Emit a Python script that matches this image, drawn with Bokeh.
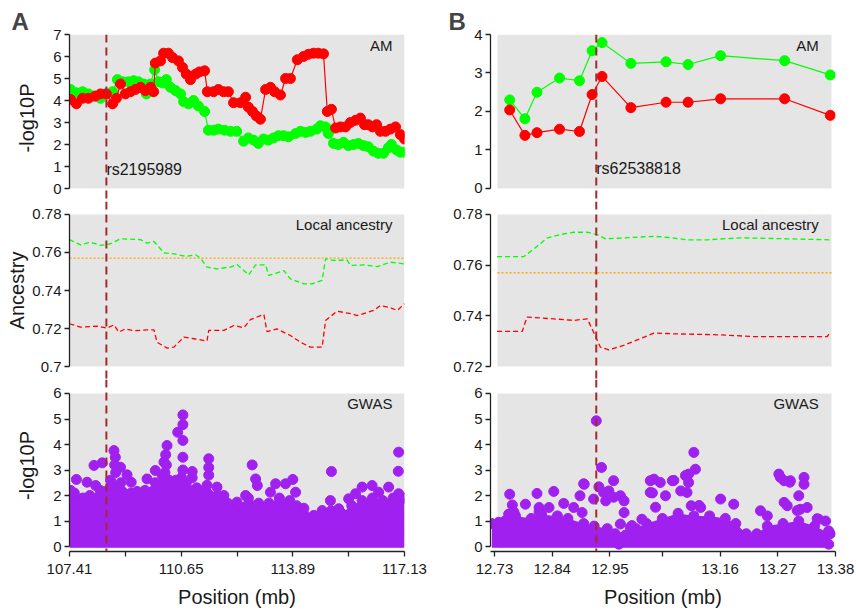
from bokeh.plotting import figure
from bokeh.layouts import row, column
from bokeh.models import Range1d, LinearAxis, FixedTicker, BoxAnnotation, Span, Grid
from bokeh.core.properties import value
from bokeh.embed import file_html
from bokeh.resources import INLINE

# ---------------- DATA ----------------
# Panel A (chr region 107.41-117.13 mb)
a_xticks = [107.41, 109.03, 110.65, 112.27, 113.89, 115.51, 117.13]
a_xtick_labels = ["107.41", "", "110.65", "", "113.89", "", "117.13"]
a_snp_pos = 108.48
a_snp_name = "rs2195989"

a_am_red_x = [107.44, 107.61, 107.79, 107.96, 108.16, 108.31, 108.48, 108.66, 108.77, 108.89, 109.03, 109.18,
              109.32, 109.47, 109.61, 109.76, 109.85, 109.90, 110.05, 110.14, 110.28, 110.40, 110.57, 110.69,
              110.80, 110.92, 111.07, 111.18, 111.33, 111.41, 111.59, 111.73, 111.88, 112.02, 112.17, 112.37,
              112.52, 112.60, 112.72, 112.83, 112.95, 113.10, 113.24, 113.36, 113.53, 113.68, 113.82, 114.02,
              114.20, 114.34, 114.49, 114.63, 114.78, 114.89, 115.01, 115.13, 115.27, 115.42, 115.56, 115.71,
              115.85, 115.97, 116.08, 116.20, 116.32, 116.43, 116.58, 116.72, 116.87, 117.01, 117.13]
a_am_red_y = [4.05, 3.85, 4.1, 4.1, 4.2, 4.3, 4.3, 3.85, 4.1, 4.75, 4.3, 4.4,
              4.5, 4.6, 4.45, 4.6, 4.4, 5.7, 5.8, 6.15, 6.15, 5.95, 5.8, 5.5,
              5.2, 4.95, 5.2, 5.3, 5.35, 4.4, 4.4, 4.5, 4.4, 4.4, 3.9, 3.9,
              4.15, 3.7, 3.5, 3.3, 3.15, 4.5, 4.6, 4.4, 4.25, 5.0, 5.0, 5.85,
              6.0, 6.1, 6.15, 6.15, 6.12, 3.5, 3.6, 2.75, 2.8, 2.8, 3.0, 3.1,
              3.2, 2.9, 2.9, 2.8, 2.9, 2.6, 2.6, 2.7, 2.8, 2.45, 2.25]
a_am_green_x = [107.44, 107.61, 107.79, 107.96, 108.14, 108.31, 108.48, 108.66, 108.80, 108.95, 109.12, 109.27,
                109.41, 109.56, 109.64, 109.76, 109.88, 109.99, 110.11, 110.22, 110.34, 110.49, 110.63, 110.72,
                110.86, 111.01, 111.15, 111.33, 111.44, 111.59, 111.73, 111.91, 112.08, 112.26, 112.46, 112.60,
                112.75, 112.89, 113.04, 113.18, 113.33, 113.47, 113.62, 113.76, 113.97, 114.11, 114.26, 114.40,
                114.58, 114.69, 114.84, 114.92, 115.07, 115.21, 115.36, 115.50, 115.65, 115.79, 115.94, 116.08,
                116.23, 116.37, 116.52, 116.66, 116.75, 116.90, 117.01, 117.13]
a_am_green_y = [4.5, 4.35, 4.4, 4.3, 4.2, 4.1, 4.3, 4.4, 4.95, 4.85, 4.85, 4.9,
                4.85, 4.75, 4.3, 4.75, 5.4, 4.85, 4.8, 4.95, 4.6, 4.45, 4.3, 3.95,
                3.85, 4.0, 3.75, 3.5, 2.65, 2.65, 2.7, 2.65, 2.6, 2.6, 2.15, 2.3,
                2.2, 2.05, 2.25, 2.2, 2.3, 2.4, 2.4, 2.35, 2.5, 2.6, 2.55, 2.6,
                2.7, 2.85, 2.8, 2.5, 2.05, 2.0, 2.1, 1.95, 2.0, 2.05, 1.95, 1.9,
                1.7, 1.6, 1.6, 1.85, 2.0, 1.75, 1.65, 1.65]

a_la_green_x = [107.41, 107.73, 108.02, 108.31, 108.60, 108.89, 109.47, 109.66, 109.86, 110.15, 110.44, 110.78,
                111.07, 111.21, 111.40, 111.69, 112.08, 112.27, 112.61, 112.81, 113.10, 113.19, 113.63, 113.82,
                114.21, 114.45, 114.74, 114.84, 115.08, 115.46, 115.56, 115.95, 116.34, 116.72, 117.13]
a_la_green_y = [0.7668, 0.7640, 0.7654, 0.7637, 0.7646, 0.7672, 0.7668, 0.7649, 0.7658, 0.7598, 0.7593, 0.7579,
                0.7588, 0.7570, 0.7523, 0.7514, 0.7523, 0.7537, 0.7482, 0.7535, 0.7535, 0.7479, 0.7505, 0.7461,
                0.7435, 0.7435, 0.7453, 0.7567, 0.7558, 0.7561, 0.7532, 0.7535, 0.7526, 0.7549, 0.7540]
a_la_red_x = [107.41, 107.73, 108.21, 108.50, 108.70, 108.84, 109.03, 109.28, 109.66, 109.86, 109.95, 110.24,
              110.44, 110.73, 111.02, 111.40, 111.45, 111.89, 112.18, 112.47, 112.66, 113.05, 113.14, 113.43,
              113.82, 114.11, 114.40, 114.74, 114.84, 115.17, 115.61, 115.75, 116.24, 116.43, 116.72, 116.92, 117.13]
a_la_red_y = [0.7225, 0.7207, 0.7212, 0.7202, 0.7219, 0.7181, 0.7198, 0.7188, 0.7193, 0.7193, 0.7128, 0.7097,
              0.7102, 0.7155, 0.7146, 0.7134, 0.7190, 0.7190, 0.7216, 0.7204, 0.7247, 0.7274, 0.7184, 0.7198,
              0.7163, 0.7128, 0.7102, 0.7102, 0.7242, 0.7291, 0.7277, 0.7268, 0.7295, 0.7321, 0.7309, 0.7295, 0.7330]
la_reference = 0.757

a_gwas_x = [107.44, 107.61, 107.92, 108.12, 108.17, 108.36, 108.70, 108.74, 108.72, 108.75, 108.89, 109.08,
            109.20, 109.37, 109.66, 109.90, 110.15, 110.24, 110.20, 110.22, 110.18, 110.55, 110.70, 110.70,
            110.70, 110.70, 110.70, 110.66, 110.97, 110.97, 111.45, 111.45, 111.45, 111.69, 111.89, 112.27,
            112.52, 112.71, 112.81, 112.86, 113.24, 113.39, 113.68, 113.89, 113.97, 114.21, 114.50, 114.74,
            114.98, 115.01, 115.22, 115.51, 115.71, 115.90, 116.19, 116.38, 116.67, 116.96, 116.95, 116.96,
            116.96, 116.96]
a_gwas_y = [2.2, 2.63, 2.52, 3.18, 2.39, 3.28, 3.76, 3.50, 3.2, 2.9, 3.11, 2.81,
            2.52, 2.16, 2.65, 2.98, 3.31, 3.96, 3.6, 3.2, 2.9, 4.48, 5.16, 4.78,
            4.16, 3.50, 3.0, 2.7, 2.94, 2.70, 3.44, 3.10, 2.8, 2.33, 2.00, 1.74,
            2.00, 3.20, 2.65, 2.39, 2.13, 2.46, 2.46, 2.63, 2.13, 1.50, 1.22, 1.41,
            1.80, 2.94, 1.48, 1.87, 2.07, 2.33, 2.39, 2.13, 2.33, 3.70, 2.95, 2.07,
            1.20, 0.60]
a_gwas_band_x = [107.41, 107.55, 107.8, 108.0, 108.3, 108.6, 108.9, 109.2, 109.45, 109.6, 109.9, 110.1,
                 110.3, 110.5, 110.8, 111.1, 111.4, 111.7, 112.0, 112.3, 112.6, 112.9, 113.2, 113.5,
                 113.8, 114.0, 114.2, 114.4, 114.7, 115.0, 115.3, 115.6, 115.9, 116.2, 116.5, 116.8, 117.13]
a_gwas_band_top = [1.9, 2.1, 1.9, 2.0, 2.2, 2.6, 2.5, 2.1, 2.0, 2.2, 2.5, 2.8,
                   2.6, 2.6, 2.5, 2.3, 2.4, 2.0, 1.7, 1.6, 1.9, 1.7, 1.7, 1.9,
                   1.8, 1.6, 1.3, 1.1, 1.2, 1.4, 1.3, 1.6, 1.8, 1.9, 1.8, 1.9, 1.9]

# Panel B (region 12.73-13.38 mb)
b_xticks = [12.73, 12.84, 12.95, 13.05, 13.16, 13.27, 13.38]
b_xtick_labels = ["12.73", "12.84", "12.95", "", "13.16", "13.27", "13.38"]
b_snp_pos = 12.924
b_snp_name = "rs62538818"

b_am_x = [12.759, 12.788, 12.811, 12.854, 12.892, 12.916, 12.935, 12.990, 13.057, 13.099, 13.161, 13.283, 13.370]
b_am_green_y = [2.30, 1.81, 2.50, 2.87, 2.80, 3.58, 3.79, 3.25, 3.29, 3.22, 3.45, 3.32, 2.95]
b_am_red_y = [2.04, 1.38, 1.45, 1.54, 1.48, 2.44, 2.91, 2.10, 2.24, 2.24, 2.33, 2.33, 1.90]

b_la_green_x = [12.735, 12.786, 12.805, 12.830, 12.856, 12.881, 12.907, 12.926, 12.942, 12.970, 13.034, 13.072,
                13.097, 13.135, 13.199, 13.288, 13.370]
b_la_green_y = [0.7634, 0.7634, 0.7664, 0.7707, 0.7721, 0.7730, 0.7730, 0.7720, 0.7704, 0.7707, 0.7714, 0.7707,
                0.7700, 0.7700, 0.7708, 0.7704, 0.7700]
b_la_red_x = [12.735, 12.783, 12.792, 12.843, 12.881, 12.907, 12.919, 12.932, 12.948, 12.976, 13.034, 13.072,
              13.161, 13.224, 13.364, 13.370]
b_la_red_y = [0.7339, 0.7339, 0.7395, 0.7388, 0.7382, 0.7388, 0.7335, 0.7276, 0.7266, 0.7283, 0.7332, 0.7329,
              0.7325, 0.7318, 0.7318, 0.7335]

b_gwas_x = [12.924, 12.934, 12.929, 12.957, 12.901, 12.893, 12.759, 12.811, 12.843, 12.789, 12.764, 12.757,
            12.815, 12.834, 12.862, 12.881, 12.897, 12.919, 12.938, 12.942, 12.948, 12.970, 12.977, 12.977,
            12.970, 12.973, 12.967, 12.989, 13.011, 13.027, 13.027, 13.034, 13.046, 13.056, 13.069, 13.085,
            13.097, 13.100, 13.100, 13.110, 13.113, 13.105, 13.123, 13.161, 13.186, 13.272, 13.275, 13.282,
            13.294, 13.320, 13.320, 13.282, 13.288, 13.310, 13.313, 13.326, 13.237, 13.250, 13.348, 13.361,
            13.367, 13.367, 12.738, 12.767, 12.815, 12.900, 12.957, 12.992, 13.031, 13.037, 13.094, 13.072,
            13.120, 13.293, 13.307, 13.345]
b_gwas_y = [4.93, 3.10, 2.34, 2.58, 2.44, 1.99, 2.05, 2.08, 2.16, 1.66, 1.63, 1.27,
            1.53, 1.53, 1.69, 1.53, 1.33, 1.86, 2.12, 1.79, 2.18, 1.99, 1.79, 1.33,
            0.88, 0.35, 0.09, 0.75, 1.07, 2.58, 2.12, 2.64, 2.51, 1.99, 2.58, 2.18,
            2.12, 2.84, 2.51, 3.69, 3.03, 1.60, 1.53, 1.86, 1.66, 2.84, 2.71, 2.58,
            2.58, 2.71, 2.44, 1.73, 1.60, 1.99, 1.46, 1.53, 1.40, 1.20, 1.07, 1.00,
            0.61, 0.09, 0.95, 1.35, 1.35, 2.46, 1.93, 0.82, 2.10, 1.54, 2.78, 2.59,
            1.61, 2.52, 1.41, 1.09]
b_gwas_band_x = [12.725, 12.75, 12.77, 12.80, 12.82, 12.85, 12.87, 12.90, 12.92, 12.945, 12.96, 12.98,
                 13.00, 13.02, 13.05, 13.08, 13.11, 13.14, 13.17, 13.19, 13.21, 13.23, 13.25, 13.28,
                 13.31, 13.34, 13.37]
b_gwas_band_top = [0.9, 1.0, 1.2, 1.1, 1.25, 1.2, 1.1, 0.9, 0.8, 0.7, 0.5, 0.45,
                   0.7, 0.9, 1.1, 1.3, 1.2, 1.2, 1.1, 0.9, 0.5, 0.5, 0.8, 0.9,
                   1.0, 0.8, 0.5]

# ---------------- STYLE ----------------
FONT = "Liberation Sans"
GRAY = "#E5E5E5"
RED = "#FF0000"
GREEN = "#00FF00"
PURPLE = "#A020F0"
SNP_COL = "#A52A2A"
AXIS_COL = "#222222"


def base_fig(width, height, xr, yr, bl, br, bt, bb):
    p = figure(width=width, height=height, x_range=xr, y_range=yr,
               output_backend="svg", toolbar_location=None,
               x_axis_location=None, y_axis_location=None,
               min_border_left=bl, min_border_right=br,
               min_border_top=bt, min_border_bottom=bb)
    p.center = [c for c in p.center if not isinstance(c, Grid)]
    p.outline_line_color = None
    p.background_fill_color = "white"
    p.border_fill_color = "white"
    return p


def style_axis(ax):
    ax.major_tick_out = 5
    ax.major_tick_in = 0
    ax.minor_tick_out = 0
    ax.minor_tick_in = 0
    ax.axis_line_color = AXIS_COL
    ax.axis_line_width = 1.3
    ax.major_tick_line_color = AXIS_COL
    ax.major_tick_line_width = 1.3
    ax.major_label_text_font = FONT
    ax.major_label_text_font_size = "15px"
    ax.major_label_text_color = "#1a1a1a"
    ax.major_label_standoff = 3
    ax.axis_label_text_font = FONT
    ax.axis_label_text_font_size = "20px"
    ax.axis_label_text_font_style = "normal"
    ax.axis_label_text_color = "#1a1a1a"


def add_yaxis(p, ticks, labels, bounds, label=None, standoff=10):
    ax = LinearAxis(ticker=FixedTicker(ticks=ticks), bounds=bounds)
    ax.major_label_overrides = {t: l for t, l in zip(ticks, labels)}
    style_axis(ax)
    if label:
        ax.axis_label = label
        ax.axis_label_standoff = standoff
    p.add_layout(ax, "left")


def add_xaxis(p, ticks, labels):
    ax = LinearAxis(ticker=FixedTicker(ticks=ticks))
    ax.major_label_overrides = {t: l for t, l in zip(ticks, labels)}
    style_axis(ax)
    ax.major_label_standoff = 7
    ax.axis_label = "Position (mb)"
    ax.axis_label_standoff = 9
    p.add_layout(ax, "below")


def gray(p, left=None, right=None, bottom=None, top=None):
    p.add_layout(BoxAnnotation(left=left, right=right, bottom=bottom, top=top,
                               fill_color=GRAY, fill_alpha=1.0, line_color=None, level="underlay"))


def snp_line(p, pos):
    p.add_layout(Span(location=pos, dimension="height", line_color=SNP_COL,
                      line_dash="8 5", line_width=2))


def tag(p, x, y, text, size="15px", align="right"):
    p.text(x=[x], y=[y], text=[text], text_font=value(FONT), text_font_size=value(size),
           text_align=align, text_baseline="middle", text_color="#1a1a1a")


def am_series(p, xs, ys, color):
    p.line(xs, ys, line_color=color, line_width=1.2)
    p.scatter(xs, ys, marker="circle", size=10, fill_color=color, line_color=color)


def la_series(p, xs, ys, color):
    p.line(xs, ys, line_color=color, line_width=1.3, line_dash="5 3")


def gwas(p, bx, btop, px, py):
    p.varea(x=bx, y1=[-0.05] * len(bx), y2=btop, fill_color=PURPLE)
    p.scatter(bx, btop, marker="circle", size=10, fill_color=PURPLE, line_color=PURPLE)
    p.scatter(px, py, marker="circle", size=10, fill_color=PURPLE, line_color=PURPLE)


# ---------------- COLUMN A ----------------
xa = Range1d(107.41, 117.13)
WA, LA, RA = 428, 69, 24

pa1 = base_fig(WA, 201, xa, Range1d(-0.59, 7.0), LA, RA, 34, 0)
pa1.title.text = "A"
pa1.title.text_font = FONT
pa1.title.text_font_size = "24px"
pa1.title.text_font_style = "bold"
pa1.title.align = "left"
pa1.title.offset = -58
pa1.title.standoff = 0
gray(pa1, bottom=0)
am_series(pa1, a_am_green_x, a_am_green_y, GREEN)
am_series(pa1, a_am_red_x, a_am_red_y, RED)
add_yaxis(pa1, [0, 1, 2, 3, 4, 5, 6, 7], ["0", "1", "2", "3", "4", "5", "6", "7"], (0, 7), "-log10P", 12)
snp_line(pa1, a_snp_pos)
tag(pa1, a_snp_pos, 0.86, a_snp_name, "16px", "left")
tag(pa1, 116.78, 6.5, "AM")

pa2 = base_fig(WA, 178, xa, Range1d(0.69316, 0.78684), LA, RA, 0, 0)
gray(pa2, bottom=0.70, top=0.78)
pa2.line([107.41, 117.13], [la_reference, la_reference], line_color="#FFA500", line_width=1.3, line_dash="2 2")
la_series(pa2, a_la_green_x, a_la_green_y, GREEN)
la_series(pa2, a_la_red_x, a_la_red_y, RED)
add_yaxis(pa2, [0.70, 0.72, 0.74, 0.76, 0.78], ["0.7", "0.72", "0.74", "0.76", "0.78"], (0.70, 0.78), "Ancestry", 1)
snp_line(pa2, a_snp_pos)
tag(pa2, 116.78, 0.7747, "Local ancestry")

pa3 = base_fig(WA, 237, xa, Range1d(-0.196, 6.549), LA, RA, 0, 65)
gray(pa3, bottom=-0.08, top=6)
gwas(pa3, a_gwas_band_x, a_gwas_band_top, a_gwas_x, a_gwas_y)
add_yaxis(pa3, [0, 1, 2, 3, 4, 5, 6], ["0", "1", "2", "3", "4", "5", "6"], (0, 6), "-log10P", 12)
add_xaxis(pa3, a_xticks, a_xtick_labels)
snp_line(pa3, a_snp_pos)
tag(pa3, 116.78, 5.6, "GWAS")

# ---------------- COLUMN B ----------------
xb = Range1d(12.7224, 13.38)
WB, LB, RB = 428, 62, 21
B_GL, B_GR = 12.7357, 13.3724

pb1 = base_fig(WB, 201, xb, Range1d(-0.338, 4.0), LB, RB, 34, 0)
pb1.title.text = "B"
pb1.title.text_font = FONT
pb1.title.text_font_size = "24px"
pb1.title.text_font_style = "bold"
pb1.title.align = "left"
pb1.title.offset = -42
pb1.title.standoff = 0
gray(pb1, left=B_GL, right=B_GR, bottom=0)
am_series(pb1, b_am_x, b_am_green_y, GREEN)
am_series(pb1, b_am_x, b_am_red_y, RED)
add_yaxis(pb1, [0, 1, 2, 3, 4], ["0", "1", "2", "3", "4"], (0, 4))
snp_line(pb1, b_snp_pos)
tag(pb1, b_snp_pos, 0.52, b_snp_name, "16px", "left")
tag(pb1, 13.348, 3.71, "AM")

pb2 = base_fig(WB, 178, xb, Range1d(0.71487, 0.78513), LB, RB, 0, 0)
gray(pb2, left=B_GL, right=B_GR, bottom=0.72, top=0.78)
pb2.line([B_GL, B_GR], [la_reference, la_reference], line_color="#FFA500", line_width=1.3, line_dash="2 2")
la_series(pb2, b_la_green_x, b_la_green_y, GREEN)
la_series(pb2, b_la_red_x, b_la_red_y, RED)
add_yaxis(pb2, [0.72, 0.74, 0.76, 0.78], ["0.72", "0.74", "0.76", "0.78"], (0.72, 0.78))
snp_line(pb2, b_snp_pos)
tag(pb2, 13.348, 0.7761, "Local ancestry")

pb3 = base_fig(WB, 237, xb, Range1d(-0.196, 6.549), LB, RB, 0, 65)
gray(pb3, left=B_GL, right=B_GR, bottom=-0.08, top=6)
gwas(pb3, b_gwas_band_x, b_gwas_band_top, b_gwas_x, b_gwas_y)
add_yaxis(pb3, [0, 1, 2, 3, 4, 5, 6], ["0", "1", "2", "3", "4", "5", "6"], (0, 6))
add_xaxis(pb3, b_xticks, b_xtick_labels)
snp_line(pb3, b_snp_pos)
tag(pb3, 13.348, 5.6, "GWAS")

layout = row(column(pa1, pa2, pa3), column(pb1, pb2, pb3))
open("out.html", "w").write(file_html(layout, INLINE))
